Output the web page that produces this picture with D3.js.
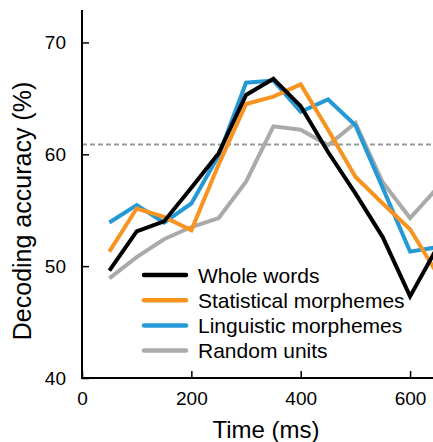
<!DOCTYPE html>
<html>
<head>
<meta charset="utf-8">
<script src="https://cdn.jsdelivr.net/npm/d3@7"></script>
<style>
  html, body { margin: 0; padding: 0; background: #fff; }
  svg { display: block; font-family: "Liberation Sans", Arial, Helvetica, sans-serif; }
</style>
</head>
<body>
<svg id="chart" width="433" height="442"></svg>
<script>
// ---- data ----
const times = [50, 100, 150, 200, 250, 300, 350, 400, 450, 500, 550, 600, 650];
const wholeWords = [49.6, 53.1, 54.0, 57.0, 60.1, 65.3, 66.75, 64.3, 60.2, 56.5, 52.6, 47.3, 51.7];
const statisticalMorphemes = [51.3, 55.15, 54.4, 53.2, 59.1, 64.5, 65.15, 66.25, 62.2, 58.0, 55.6, 53.3, 49.3];
const linguisticMorphemes = [53.9, 55.45, 53.9, 55.6, 59.9, 66.4, 66.6, 63.8, 64.9, 62.6, 57.0, 51.3, 51.7];
const randomUnits = [48.9, 50.8, 52.4, 53.5, 54.3, 57.55, 62.5, 62.2, 60.8, 62.8, 57.5, 54.3, 57.0];
const chanceLevel = 60.87;
const xTicks = [0, 200, 400, 600];
const yTicks = [40, 50, 60, 70];
const seriesNames = ["Whole words", "Statistical morphemes", "Linguistic morphemes", "Random units"];
const seriesColors = ["#000000", "#f7931e", "#2499d6", "#aaaaaa"];
const xLabel = "Time (ms)";
const yLabel = "Decoding accuracy (%)";

const seriesValues = [wholeWords, statisticalMorphemes, linguisticMorphemes, randomUnits];

const svg = d3.select("#chart");
const W = 433;

const x = d3.scaleLinear().domain([0, 650]).range([82, 437.4]);
const y = d3.scaleLinear().domain([40, 72.9]).range([378, 10]);

// chance line
svg.append("line")
  .attr("x1", x(0)).attr("x2", W)
  .attr("y1", y(chanceLevel)).attr("y2", y(chanceLevel))
  .attr("stroke", "#999").attr("stroke-width", 2)
  .attr("stroke-dasharray", "5,3");

// lines (draw order: gray, blue, orange, black)
const line = d3.line().x((d, i) => x(times[i])).y(d => y(d));
const order = [3, 2, 1, 0];
order.forEach(k => {
  svg.append("path")
    .datum(seriesValues[k])
    .attr("d", line)
    .attr("fill", "none")
    .attr("stroke", seriesColors[k])
    .attr("stroke-width", 4)
    .attr("stroke-linejoin", "miter");
});

// axes
const xAxis = d3.axisBottom(x).tickValues(xTicks).tickSizeInner(-7).tickSizeOuter(0).tickPadding(14).tickFormat(d3.format("d"));
const gx = svg.append("g").attr("transform", `translate(0,${y(40)})`).call(xAxis);
gx.select(".domain").remove();
gx.append("line").attr("x1", x(0) - 1).attr("x2", W).attr("y1", 0).attr("y2", 0)
  .attr("stroke", "#000").attr("stroke-width", 2);
gx.selectAll(".tick line").attr("stroke", "#000").attr("stroke-width", 1.5);
gx.selectAll(".tick text").attr("font-size", 19).attr("fill", "#000")
  .attr("font-family", "Liberation Sans, Arial, sans-serif");

const yAxis = d3.axisLeft(y).tickValues(yTicks).tickSizeInner(-7).tickSizeOuter(0).tickPadding(16);
const gy = svg.append("g").attr("transform", `translate(${x(0)},0)`).call(yAxis);
gy.select(".domain").remove();
gy.append("line").attr("x1", 0).attr("x2", 0).attr("y1", y(72.9)).attr("y2", y(40) + 1)
  .attr("stroke", "#000").attr("stroke-width", 2);
gy.selectAll(".tick line").attr("stroke", "#000").attr("stroke-width", 1.5);
gy.selectAll(".tick text").attr("font-size", 19).attr("fill", "#000")
  .attr("font-family", "Liberation Sans, Arial, sans-serif");

// axis titles
svg.append("text")
  .attr("x", 266).attr("y", 438)
  .attr("text-anchor", "middle").attr("font-size", 24).attr("fill", "#000")
  .text(xLabel);
svg.append("text")
  .attr("transform", "translate(31,211) rotate(-90)")
  .attr("text-anchor", "middle").attr("font-size", 25).attr("fill", "#000")
  .text(yLabel);

// legend
const legend = svg.append("g");
seriesNames.forEach((name, i) => {
  const ly = 275 + i * 25.2;
  legend.append("line")
    .attr("x1", 144).attr("x2", 186).attr("y1", ly).attr("y2", ly)
    .attr("stroke", seriesColors[i]).attr("stroke-width", 4.5)
    .attr("stroke-linecap", "round");
  legend.append("text")
    .attr("x", 198).attr("y", ly + 7.5)
    .attr("font-size", 21).attr("fill", "#000")
    .text(name);
});
</script>
</body>
</html>
